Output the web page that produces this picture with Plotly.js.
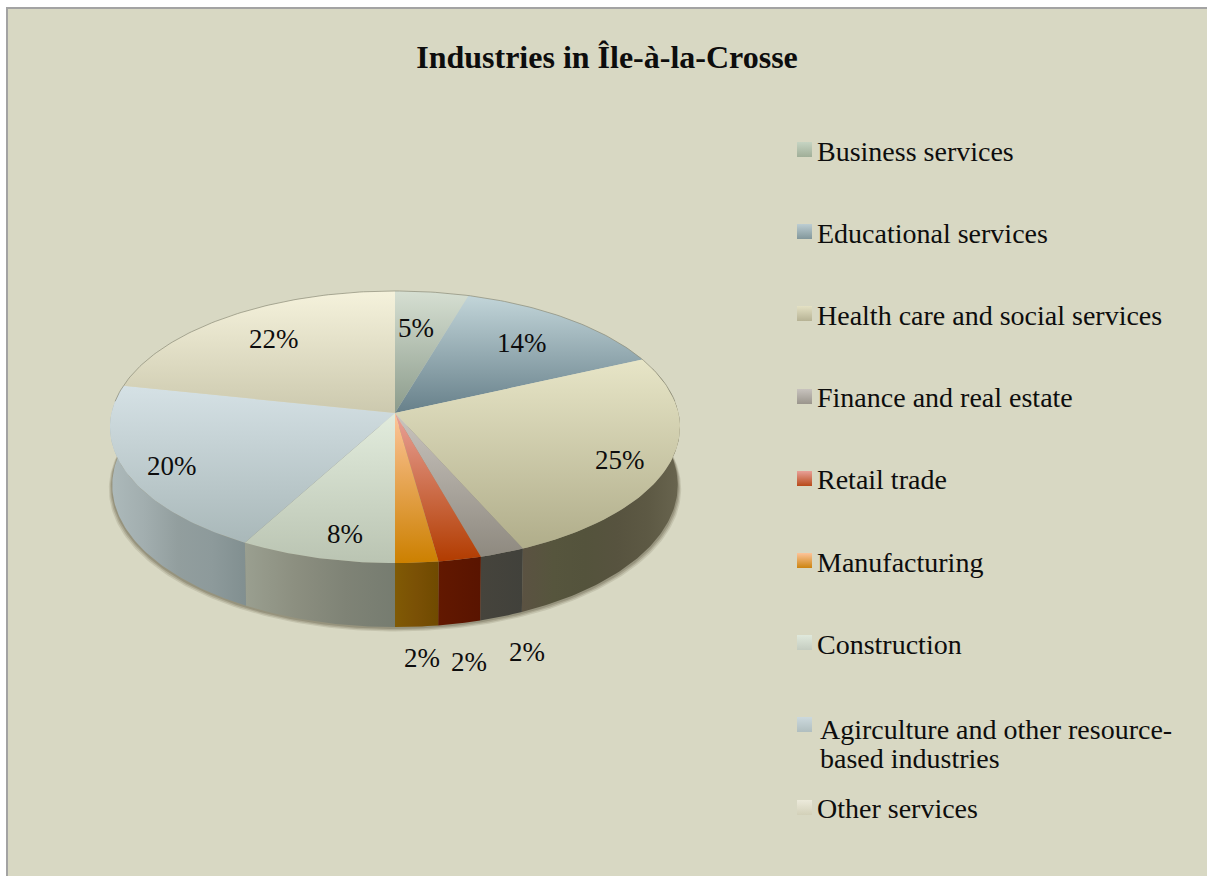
<!DOCTYPE html>
<html>
<head>
<meta charset="utf-8">
<script src="https://cdn.plot.ly/plotly-3.0.1.min.js"></script>
<style>html,body{margin:0;padding:0;background:#fff}</style>
</head>
<body>
<div id="chart" style="width:1207px;height:876px"></div>
<script>
const chartTitle = "Industries in Île-à-la-Crosse";
const categories = ["Business services","Educational services","Health care and social services","Finance and real estate","Retail trade","Manufacturing","Construction","Agirculture and other resource-<br>based industries","Other services"];
const values = [4.6,13.6,25.1,2.3,2.2,2.2,8.0,20.3,21.7];

// styles
const topColors = [["#d6dfd2","#8b9b8b"],["#c2d5d9","#67808a"],["#e7e5c7","#b0ad8a"],["#c9c4be","#8e897f"],["#e9a299","#b23c00"],["#fdc59b","#cc8000"],["#e2ecdd","#bac4b2"],["#d5e1e5","#a9b8b9"],["#f5f2dc","#ccc9ae"]];
const sideColors = [null,null,["#5b5242","#56553d","#54533c","#57533f","#5d5944","#69654f"],["#46443c","#41413b"],["#621800","#591400"],["#805a05","#7a5005","#6f4a00"],["#9a9f90","#8c8f80","#7f8376","#767c70"],["#adbabb","#a2aeaf","#929e9e","#8d9a9b","#818f90"],null];
const legendColors = [["#c6d4c2","#a0ae98"],["#bccdd2","#82979b"],["#e4e1c4","#b6b294"],["#c8c3be","#9a958c"],["#e8a098","#b84a1a"],["#fdc49a","#cc8410"],["#e0e9dc","#c4ccc0"],["#ccd9dd","#b0bebf"],["#eceadb","#d2d0b8"]];
const labelX = [416,522,620,527,469,422,345,172,274];
const labelY = [328,343,460,652,662,658,534,466,339];
const legendSwatchY = [142,224,306,389,471,553,635,717,800];
const legendTextY = [151,233,315,397,479,562,644,729,808];
const legendTextX = [815,815,815,815,815,815,815,818,815];
const wrappedLineGap = 29;

const cx=395, cy=413, A=283.5, B=134.6, K=0.103, H=57.4, BX=0.992;
function pt(deg, dy, sx){
  const t=deg*Math.PI/180, w=1+K*Math.cos(t);
  return [cx+(sx||1)*A*Math.sin(t)/w, cy-B*Math.cos(t)/w+(dy||0)*H/w];
}
function arc(a,b,dy,sx){
  const out=[], n=Math.max(2,Math.ceil(Math.abs(b-a)));
  for(let i=0;i<=n;i++) out.push(pt(a+(b-a)*i/n,dy,sx));
  return out;
}
function scale(cols){return cols.map((c,i)=>[i/(cols.length-1),c]);}
const total=values.reduce((s,v)=>s+v,0);
const cum=[0]; values.forEach(v=>cum.push(cum[cum.length-1]+v));
const ang=cum.map(c=>c/total*360);
const base={type:"scatter",mode:"lines",line:{width:0},fill:"toself",hoverinfo:"skip",showlegend:false};
const traces=[];

// soft shadow under the rim
[[1.012,1.07,"rgba(70,62,40,0.13)"],[1.008,1.05,"rgba(70,62,40,0.18)"],[1.004,1.03,"rgba(70,62,40,0.22)"]].forEach(s=>{
  const p=arc(70,290,s[1],BX*s[0]);
  traces.push(Object.assign({},base,{x:p.map(q=>q[0]),y:p.map(q=>q[1]),fillcolor:s[2]}));
});
// side walls
values.forEach((v,i)=>{
  if(!sideColors[i]) return;
  const a=Math.max(ang[i],70), b=Math.min(ang[i+1],290);
  const p=arc(a,b,0,1).concat(arc(b,a,1,BX));
  const xs=p.map(q=>q[0]), ys=p.map(q=>q[1]);
  xs.push(xs[0]); ys.push(ys[0]);
  traces.push(Object.assign({},base,{x:xs,y:ys,fillgradient:{type:"horizontal",start:Math.min(...xs),stop:Math.max(...xs),colorscale:scale(sideColors[i])}}));
});
// top faces
values.forEach((v,i)=>{
  const p=[[cx,cy]].concat(arc(ang[i],ang[i+1],0,1));
  const xs=p.map(q=>q[0]), ys=p.map(q=>q[1]);
  xs.push(cx); ys.push(cy);
  traces.push(Object.assign({},base,{name:categories[i],x:xs,y:ys,fillgradient:{type:"vertical",start:Math.min(...ys),stop:Math.max(...ys),colorscale:scale(topColors[i])}}));
});
// back rim line
const rim=arc(-85,85,0,1);
traces.push({type:"scatter",mode:"lines",x:rim.map(q=>q[0]),y:rim.map(q=>q[1]),line:{color:"rgba(140,140,120,0.7)",width:1},hoverinfo:"skip",showlegend:false});
// legend swatches
categories.forEach((c,i)=>{
  const x0=797,x1=812,y0=legendSwatchY[i],y1=y0+15;
  traces.push(Object.assign({},base,{x:[x0,x1,x1,x0,x0],y:[y0,y0,y1,y1,y0],fillgradient:{type:"vertical",start:y0,stop:y1,colorscale:scale(legendColors[i])}}));
});

const labelFont={family:"'Liberation Serif',serif",color:"#0d0d0d",size:27};
const legendFont={family:"'Liberation Serif',serif",color:"#0d0d0d",size:28};
const annotations=[];
values.forEach((v,i)=>annotations.push({x:labelX[i],y:labelY[i],xref:"x",yref:"y",text:Math.round(v)+"%",showarrow:false,font:labelFont,xanchor:"center",yanchor:"middle"}));
categories.forEach((c,i)=>c.split("<br>").forEach((line,j)=>annotations.push({x:legendTextX[i],y:legendTextY[i]+j*wrappedLineGap,xref:"x",yref:"y",text:line,showarrow:false,font:legendFont,xanchor:"left",yanchor:"middle",align:"left"})));

const layout={
  width:1207,height:876,margin:{l:0,r:0,t:0,b:0},
  paper_bgcolor:"#ffffff",plot_bgcolor:"#ffffff",
  title:{text:"<b>"+chartTitle+"</b>",x:607/1207,xanchor:"center",y:1-57/876,yanchor:"middle",font:{family:"'Liberation Serif',serif",size:32,color:"#0d0d0d"}},
  xaxis:{range:[0,1207],visible:false,fixedrange:true},
  yaxis:{range:[876,0],visible:false,fixedrange:true},
  shapes:[{type:"rect",xref:"x",yref:"y",x0:7,y0:8,x1:1230,y1:900,layer:"below",fillcolor:"#d8d8c3",line:{color:"#a3a3a3",width:2}}],
  annotations:annotations,showlegend:false
};
Plotly.newPlot("chart",traces,layout,{displayModeBar:false,responsive:false});
</script>
</body>
</html>
